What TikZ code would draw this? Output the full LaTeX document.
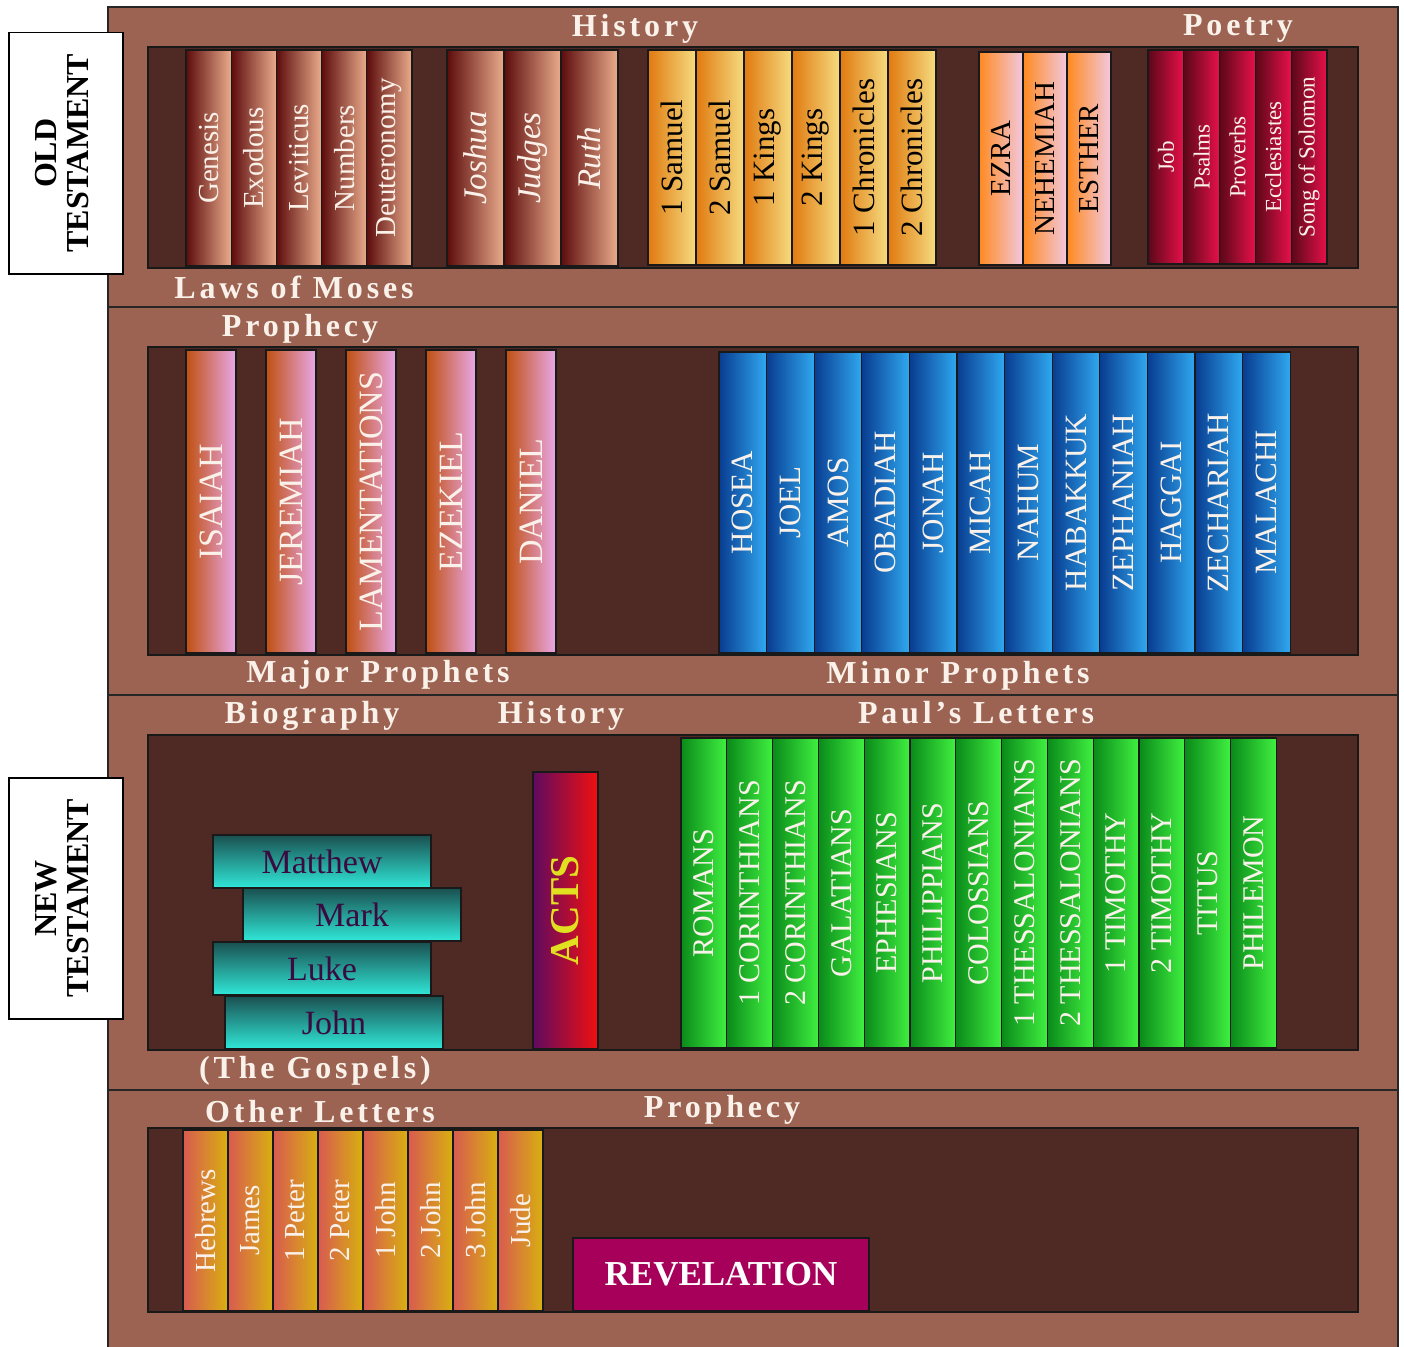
\documentclass[tikz,border=0pt]{standalone}
\usepackage{fontspec}
\setmainfont{Liberation Serif}
\newfontfamily\spaced[LetterSpace=12]{Liberation Serif}
\usepackage{xcolor}
\usetikzlibrary{positioning}

\definecolor{shelfbrown}{HTML}{9C6352}
\definecolor{panelbrown}{HTML}{4F2A24}
\definecolor{labeltext}{HTML}{FAF2EA}
\definecolor{lawdark}{HTML}{5C0C0C}
\definecolor{lawlight}{HTML}{EAAC8C}
\definecolor{histdark}{HTML}{E07A10}
\definecolor{histlight}{HTML}{F5DC80}
\definecolor{exiledark}{HTML}{FF8A20}
\definecolor{exilelight}{HTML}{F2C8E0}
\definecolor{poetdark}{HTML}{5A0818}
\definecolor{poetlight}{HTML}{E8104A}
\definecolor{majordark}{HTML}{C05010}
\definecolor{majorlight}{HTML}{E8A8E8}
\definecolor{minordark}{HTML}{083C90}
\definecolor{minorlight}{HTML}{30A8F0}
\definecolor{gospeldark}{HTML}{1A5050}
\definecolor{gospellight}{HTML}{30E8D8}
\definecolor{gospeltext}{HTML}{3A0A40}
\definecolor{actsdark}{HTML}{600A60}
\definecolor{actslight}{HTML}{F01010}
\definecolor{actstext}{HTML}{E0E020}
\definecolor{pauldark}{HTML}{0A8A1A}
\definecolor{paullight}{HTML}{40F040}
\definecolor{otherdark}{HTML}{D85A50}
\definecolor{otherlight}{HTML}{D8B010}
\definecolor{revfill}{HTML}{A6005A}

\newcommand\fsz[1]{\fontsize{#1}{#1}\selectfont}
\newcommand\spine[1]{\rotatebox{90}{#1}}

\tikzset{
    shelf/.style={
        draw=black!85,
        line width=1.5pt,
        fill=shelfbrown,
    },
    panel/.style={
        draw=black!90,
        line width=1.5pt,
        fill=panelbrown,
    },
    book/.style={
        draw=black!90,
        line width=1.2pt,
        inner sep=0pt,
        outer sep=0pt,
        anchor=north west,
    },
    law/.style={book, left color=lawdark, right color=lawlight, text=labeltext,
        minimum width=45.2pt, minimum height=216pt, font=\fsz{29}},
    lawit/.style={law, minimum width=57pt, font=\itshape\fsz{33}},
    hist/.style={book, left color=histdark, right color=histlight, text=black,
        minimum width=48pt, minimum height=215pt, font=\fsz{31}},
    exile/.style={book, left color=exiledark, right color=exilelight, text=black,
        minimum width=44pt, minimum height=213pt, font=\fsz{29}},
    poet/.style={book, left color=poetdark, right color=poetlight, text=labeltext,
        minimum width=35.8pt, minimum height=214pt, font=\fsz{23}},
    major/.style={book, left color=majordark, right color=majorlight, text=labeltext,
        minimum width=50pt, minimum height=303pt, font=\fsz{34}},
    minor/.style={book, left color=minordark, right color=minorlight, text=labeltext,
        minimum width=47.6pt, minimum height=301pt, font=\fsz{31}},
    gospel/.style={book, top color=gospeldark, bottom color=gospellight, text=gospeltext,
        minimum width=218pt, minimum height=53pt, font=\fsz{34}},
    paul/.style={book, left color=pauldark, right color=paullight, text=labeltext,
        minimum width=45.8pt, minimum height=310pt, font=\fsz{30}},
    other/.style={book, left color=otherdark, right color=otherlight, text=labeltext,
        minimum width=45pt, minimum height=181pt, font=\fsz{29}},
    testament/.style={
        draw=black,
        line width=1.5pt,
        fill=white,
        anchor=north west,
        minimum width=114pt,
        minimum height=241pt,
        font=\bfseries\fsz{32},
    },
    section/.style={anchor=base, text=labeltext, font=\spaced\bfseries\fsz{32}},
}

\begin{document}
\begin{tikzpicture}[x=1pt, y=-1pt]
      \useasboundingbox (0,0) rectangle (1404,1346);

      % shelves and back panels
      \draw[shelf] (108,7) rectangle (1398,307);
      \draw[shelf] (108,307) rectangle (1398,695);
      \draw[shelf] (108,695) rectangle (1398,1090);
      \draw[shelf] (108,1090) rectangle (1398,1360);
      \draw[panel] (148,47) rectangle (1358,268);
      \draw[panel] (148,347) rectangle (1358,655);
      \draw[panel] (148,735) rectangle (1358,1050);
      \draw[panel] (148,1128) rectangle (1358,1312);

      \node [testament] (OT) at (8,32) {\spine{\begin{tabular}{@{}c@{}}OLD\\TESTAMENT\end{tabular}}};
      \node [testament] (NT) at (8,777) {\spine{\begin{tabular}{@{}c@{}}NEW\\TESTAMENT\end{tabular}}};

      % shelf 1
      \node [law] (gen) at (186,50) {\spine{Genesis}};
      \node [law, right=0pt of gen] (exo) {\spine{Exodous}};
      \node [law, right=0pt of exo] (lev) {\spine{Leviticus}};
      \node [law, right=0pt of lev] (num) {\spine{Numbers}};
      \node [law, right=0pt of num] (deu) {\spine{Deuteronomy}};

      \node [lawit] (josh) at (447,50) {\spine{Joshua}};
      \node [lawit, right=0pt of josh] (judg) {\spine{Judges}};
      \node [lawit, right=0pt of judg] (ruth) {\spine{Ruth}};

      \node [hist] (sam1) at (648,50) {\spine{1 Samuel}};
      \node [hist, right=0pt of sam1] (sam2) {\spine{2 Samuel}};
      \node [hist, right=0pt of sam2] (kgs1) {\spine{1 Kings}};
      \node [hist, right=0pt of kgs1] (kgs2) {\spine{2 Kings}};
      \node [hist, right=0pt of kgs2] (chr1) {\spine{1 Chronicles}};
      \node [hist, right=0pt of chr1] (chr2) {\spine{2 Chronicles}};

      \node [exile] (ezra) at (979,52) {\spine{EZRA}};
      \node [exile, right=0pt of ezra] (neh) {\spine{NEHEMIAH}};
      \node [exile, right=0pt of neh] (esth) {\spine{ESTHER}};

      \node [poet] (job) at (1148,50) {\spine{Job}};
      \node [poet, right=0pt of job] (psa) {\spine{Psalms}};
      \node [poet, right=0pt of psa] (prov) {\spine{Proverbs}};
      \node [poet, right=0pt of prov] (eccl) {\spine{Ecclesiastes}};
      \node [poet, right=0pt of eccl] (song) {\spine{Song of Solomon}};

      \node [section] (l-hist) at (635,37) {History};
      \node [section] (l-poet) at (1238,36) {Poetry};
      \node [section] (l-laws) at (294,298) {Laws of Moses};

      % shelf 2
      \node [major] (isa) at (186,350) {\spine{ISAIAH}};
      \node [major, right=30pt of isa] (jer) {\spine{JEREMIAH}};
      \node [major, right=30pt of jer] (lam) {\spine{LAMENTATIONS}};
      \node [major, right=30pt of lam] (ezek) {\spine{EZEKIEL}};
      \node [major, right=30pt of ezek] (dan) {\spine{DANIEL}};

      \node [minor] (hos) at (719,352) {\spine{HOSEA}};
      \node [minor, right=0pt of hos] (joel) {\spine{JOEL}};
      \node [minor, right=0pt of joel] (amos) {\spine{AMOS}};
      \node [minor, right=0pt of amos] (obad) {\spine{OBADIAH}};
      \node [minor, right=0pt of obad] (jon) {\spine{JONAH}};
      \node [minor, right=0pt of jon] (mic) {\spine{MICAH}};
      \node [minor, right=0pt of mic] (nah) {\spine{NAHUM}};
      \node [minor, right=0pt of nah] (hab) {\spine{HABAKKUK}};
      \node [minor, right=0pt of hab] (zeph) {\spine{ZEPHANIAH}};
      \node [minor, right=0pt of zeph] (hag) {\spine{HAGGAI}};
      \node [minor, right=0pt of hag] (zech) {\spine{ZECHARIAH}};
      \node [minor, right=0pt of zech] (mal) {\spine{MALACHI}};

      \node [section] (l-proph) at (300,336) {Prophecy};
      \node [section] (l-major) at (378,682) {Major Prophets};
      \node [section] (l-minor) at (958,683) {Minor Prophets};

      % shelf 3
      \node [gospel] (matt) at (213,835) {Matthew};
      \node [gospel] (mark) at (243,888) {Mark};
      \node [gospel] (luke) at (213,942) {Luke};
      \node [gospel] (john) at (225,996) {John};

      \node [book, left color=actsdark, right color=actslight, text=actstext,
             minimum width=65pt, minimum height=277pt, font=\bfseries\fsz{41}] (acts) at (533,772) {\spine{ACTS}};

      \node [paul] (rom) at (681,738) {\spine{ROMANS}};
      \node [paul, right=0pt of rom] (cor1) {\spine{1 CORINTHIANS}};
      \node [paul, right=0pt of cor1] (cor2) {\spine{2 CORINTHIANS}};
      \node [paul, right=0pt of cor2] (gal) {\spine{GALATIANS}};
      \node [paul, right=0pt of gal] (eph) {\spine{EPHESIANS}};
      \node [paul, right=0pt of eph] (phil) {\spine{PHILIPPIANS}};
      \node [paul, right=0pt of phil] (col) {\spine{COLOSSIANS}};
      \node [paul, right=0pt of col] (thes1) {\spine{1 THESSALONIANS}};
      \node [paul, right=0pt of thes1] (thes2) {\spine{2 THESSALONIANS}};
      \node [paul, right=0pt of thes2] (tim1) {\spine{1 TIMOTHY}};
      \node [paul, right=0pt of tim1] (tim2) {\spine{2 TIMOTHY}};
      \node [paul, right=0pt of tim2] (tit) {\spine{TITUS}};
      \node [paul, right=0pt of tit] (phlm) {\spine{PHILEMON}};

      \node [section] (l-bio) at (312,723) {Biography};
      \node [section] (l-nthist) at (561,723) {History};
      \node [section] (l-paul) at (976,723) {Paul’s Letters};
      \node [section] (l-gosp) at (315,1078) {(The Gospels)};

      % shelf 4
      \node [other] (heb) at (183,1130) {\spine{Hebrews}};
      \node [other, right=0pt of heb] (jas) {\spine{James}};
      \node [other, right=0pt of jas] (pet1) {\spine{1 Peter}};
      \node [other, right=0pt of pet1] (pet2) {\spine{2 Peter}};
      \node [other, right=0pt of pet2] (jn1) {\spine{1 John}};
      \node [other, right=0pt of jn1] (jn2) {\spine{2 John}};
      \node [other, right=0pt of jn2] (jn3) {\spine{3 John}};
      \node [other, right=0pt of jn3] (jude) {\spine{Jude}};

      \node [book, fill=revfill, text=white, minimum width=296pt, minimum height=73pt,
             font=\bfseries\fsz{35}] (rev) at (573,1238) {REVELATION};

      \node [section] (l-other) at (320,1122) {Other Letters};
      \node [section] (l-ntproph) at (722,1117) {Prophecy};
\end{tikzpicture}
\end{document}
